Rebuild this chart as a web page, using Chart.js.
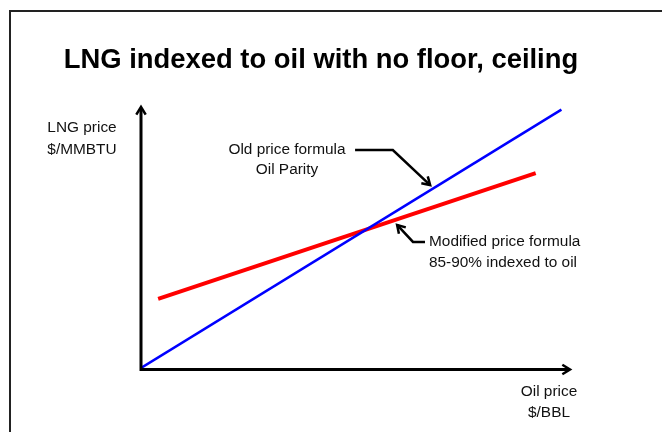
<!DOCTYPE html>
<html>
<head>
<meta charset="utf-8">
<style>
  html, body { margin: 0; padding: 0; background: #fff; }
  #wrap { position: relative; width: 662px; height: 432px; }
</style>
<script src="https://cdn.jsdelivr.net/npm/chart.js@4"></script>
</head>
<body>
<div id="wrap"><canvas id="chart" width="662" height="432"></canvas></div>
<script>
const FONT = '"Liberation Sans", Arial, sans-serif';

// data (oil price vs LNG price, arbitrary units 0-100)
const oldOilPrice = [0, 98];
const oldLngPrice = [0, 99];
const modOilPrice = [4, 92];
const modLngPrice = [26.5, 74.7];

const titleText = 'LNG indexed to oil with no floor, ceiling';
const yAxisLabel = ['LNG price', '$/MMBTU'];
const xAxisLabel = ['Oil price', '$/BBL'];
const oldLabel = ['Old price formula', 'Oil Parity'];
const modLabel = ['Modified price formula', '85-90% indexed to oil'];

// callout arrows, in data units: [start, bend, tip]
const oldArrow = [[49.9, 83.5], [58.7, 83.5], [67.4, 70.1]];
const modArrow = [[66.2, 48.3], [63.4, 48.3], [59.7, 54.8]];

function toPoints(xs, ys) {
  return xs.map((x, i) => ({ x, y: ys[i] }));
}

function arrowHead(ctx, x1, y1, x2, y2, size) {
  const a = Math.atan2(y2 - y1, x2 - x1);
  ctx.beginPath();
  ctx.moveTo(x2 - size * Math.cos(a - 0.55), y2 - size * Math.sin(a - 0.55));
  ctx.lineTo(x2, y2);
  ctx.lineTo(x2 - size * Math.cos(a + 0.55), y2 - size * Math.sin(a + 0.55));
  ctx.stroke();
}

const decorations = {
  id: 'decorations',
  beforeDraw(chart) {
    const ctx = chart.ctx;
    ctx.save();
    ctx.fillStyle = '#fff';
    ctx.fillRect(0, 0, chart.width, chart.height);
    // slide frame
    ctx.strokeStyle = '#222';
    ctx.lineWidth = 2;
    ctx.strokeRect(10, 11, chart.width + 20, chart.height + 20);
    ctx.restore();
  },
  afterDatasetsDraw(chart) {
    const ctx = chart.ctx;
    const xs = chart.scales.x, ys = chart.scales.y;
    const px = (v) => xs.getPixelForValue(v);
    const py = (v) => ys.getPixelForValue(v);
    ctx.save();

    // axes with arrows
    ctx.strokeStyle = '#000';
    ctx.lineWidth = 3;
    ctx.lineCap = 'butt';
    ctx.beginPath();
    ctx.moveTo(px(0), py(100) + 2);
    ctx.lineTo(px(0), py(0) + 1.5);
    ctx.lineTo(px(100) - 2, py(0) + 1.5);
    ctx.stroke();
    ctx.lineWidth = 2.5;
    arrowHead(ctx, px(0), py(0), px(0), py(100), 9);
    arrowHead(ctx, px(0), py(0) + 1.5, px(100), py(0) + 1.5, 9);

    // callout arrows
    [oldArrow, modArrow].forEach((pts) => {
      ctx.lineWidth = 2.5;
      ctx.lineJoin = 'miter';
      ctx.beginPath();
      pts.forEach(([x, y], i) => {
        if (i === 0) ctx.moveTo(px(x), py(y));
        else ctx.lineTo(px(x), py(y));
      });
      ctx.stroke();
      const [bx, by] = pts[pts.length - 2];
      const [tx, ty] = pts[pts.length - 1];
      arrowHead(ctx, px(bx), py(by), px(tx), py(ty), 9);
    });

    // title
    ctx.fillStyle = '#000';
    ctx.textBaseline = 'middle';
    ctx.textAlign = 'center';
    ctx.font = 'bold 27.4px ' + FONT;
    ctx.fillText(titleText, 321, 60);

    ctx.font = '15.4px ' + FONT;
    ctx.fillStyle = '#111';
    ctx.fillText(yAxisLabel[0], 82, 128);
    ctx.fillText(yAxisLabel[1], 82, 150);
    ctx.fillText(xAxisLabel[0], 549, 392);
    ctx.fillText(xAxisLabel[1], 549, 413);
    ctx.fillText(oldLabel[0], 287, 150);
    ctx.fillText(oldLabel[1], 287, 170);
    ctx.textAlign = 'left';
    ctx.fillText(modLabel[0], 429, 242);
    ctx.fillText(modLabel[1], 429, 263);
    ctx.restore();
  }
};

new Chart(document.getElementById('chart'), {
  type: 'scatter',
  data: {
    datasets: [
      {
        label: 'Old price formula',
        data: toPoints(oldOilPrice, oldLngPrice),
        showLine: true,
        borderColor: '#0000ff',
        borderWidth: 2.5,
        pointRadius: 0
      },
      {
        label: 'Modified price formula',
        data: toPoints(modOilPrice, modLngPrice),
        showLine: true,
        borderColor: '#ff0000',
        borderWidth: 4,
        pointRadius: 0
      }
    ]
  },
  options: {
    responsive: false,
    animation: false,
    layout: { padding: { left: 141, right: 92, top: 107, bottom: 64 } },
    plugins: {
      legend: { display: false },
      tooltip: { enabled: false }
    },
    scales: {
      x: { type: 'linear', min: 0, max: 100, display: false },
      y: { type: 'linear', min: 0, max: 100, display: false }
    }
  },
  plugins: [decorations]
});
</script>
</body>
</html>
